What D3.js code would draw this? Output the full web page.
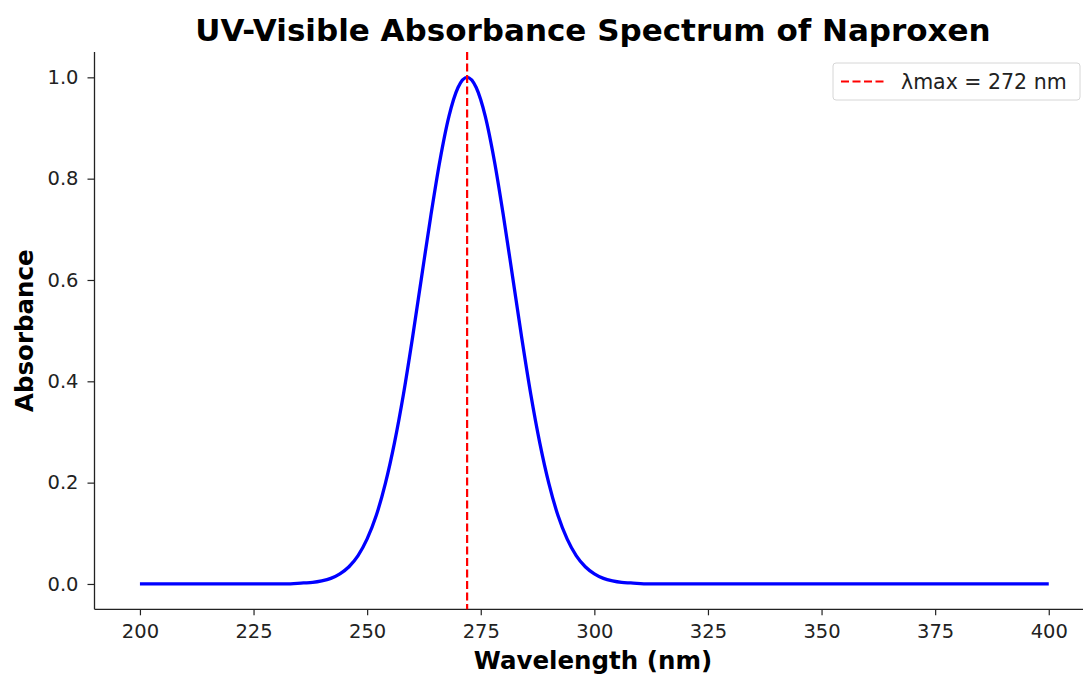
<!DOCTYPE html>
<html>
<head>
<meta charset="utf-8">
<script src="https://cdn.jsdelivr.net/npm/d3@7"></script>
<style>
body{margin:0;background:#fff}
text{font-family:"DejaVu Sans",sans-serif}
</style>
</head>
<body>
<script>
var width=1083,
	height=674;

// wavelength (nm) and absorbance
var wavelength=[200,210,220,230,232,236,238,240,242,244,246,248,250,252,254,256,258,260,262,264,266,268,270,272,
	274,276,278,280,282,284,286,288,290,292,294,296,298,300,302,304,306,308,312,320,340,360,380,400]
var absorbance=[0,0,0,0,0,0.002,0.003,0.006,0.011,0.020,0.034,0.056,0.089,0.135,0.198,0.278,0.375,0.487,0.607,0.726,0.835,0.923,0.980,1.000,
	0.980,0.923,0.835,0.726,0.607,0.487,0.375,0.278,0.198,0.135,0.089,0.056,0.034,0.020,0.011,0.006,0.003,0.002,0,0,0,0,0,0]
var xTicks=[200,225,250,275,300,325,350,375,400]
var yTicks=[0.0,0.2,0.4,0.6,0.8,1.0]
var lambdaMax=272

var svg=d3.select("body").append("svg").attr("width",width).attr("height",height)

var x=d3.scaleLinear().domain([190,410]).range([94.5,1094.2])
var y=d3.scaleLinear().domain([-0.05,1.05]).range([609.3,52])

// axes
var xAxis=svg.append("g").attr("transform","translate(0,"+y(-0.05)+")")
	.call(d3.axisBottom(x).tickValues(xTicks).tickSize(6).tickPadding(9).tickFormat(d3.format("d")))
var yAxis=svg.append("g").attr("transform","translate("+x(190)+",0)")
	.call(d3.axisLeft(y).tickValues(yTicks).tickSize(7).tickPadding(9).tickFormat(d3.format(".1f")))
svg.selectAll(".domain").attr("stroke","#222").attr("stroke-width",1.3)
svg.selectAll(".tick line").attr("stroke","#222").attr("stroke-width",1.2)
svg.selectAll(".tick text").style("font-size","19.5px").attr("fill","#222")
xAxis.select(".domain").attr("d","M"+x(190)+",0H"+x(410))
yAxis.select(".domain").attr("d","M0,"+y(-0.05)+"V"+y(1.05))

// spectrum
var pts=wavelength.map((w,i)=>({w:w,a:absorbance[i]}))
svg.append("path").datum(pts)
	.attr("fill","none").attr("stroke","#0000ff").attr("stroke-width",3.3)
	.attr("stroke-linejoin","round")
	.attr("d",d3.line().x(d=>x(d.w)).y(d=>y(d.a)).curve(d3.curveMonotoneX))

// lambda max marker
svg.append("line")
	.attr("x1",x(lambdaMax)).attr("x2",x(lambdaMax))
	.attr("y1",y(1.05)).attr("y2",y(-0.05))
	.attr("stroke","#ff0000").attr("stroke-width",2.2).attr("stroke-dasharray","8,3.5")

// titles
svg.append("text").attr("x",593).attr("y",41).attr("text-anchor","middle")
	.style("font-size","31px").style("font-weight","bold").attr("fill","#000")
	.text("UV-Visible Absorbance Spectrum of Naproxen")
svg.append("text").attr("x",593).attr("y",669).attr("text-anchor","middle")
	.style("font-size","24.5px").style("font-weight","bold").attr("fill","#000")
	.text("Wavelength (nm)")
svg.append("text").attr("transform","translate(33,"+y(0.5)+") rotate(-90)").attr("text-anchor","middle")
	.style("font-size","24.5px").style("font-weight","bold").attr("fill","#000")
	.text("Absorbance")

// legend
var lg=svg.append("g").attr("transform","translate(833,63)")
lg.append("rect").attr("width",247).attr("height",37).attr("rx",3)
	.attr("fill","#fff").attr("stroke","#d6d6d6").attr("stroke-width",1)
lg.append("line").attr("x1",8).attr("x2",51).attr("y1",18.5).attr("y2",18.5)
	.attr("stroke","#ff0000").attr("stroke-width",2.2).attr("stroke-dasharray","8,3.5")
lg.append("text").attr("x",68).attr("y",26).style("font-size","20.5px").attr("fill","#222")
	.text("λmax = "+lambdaMax+" nm")
</script>
</body>
</html>
